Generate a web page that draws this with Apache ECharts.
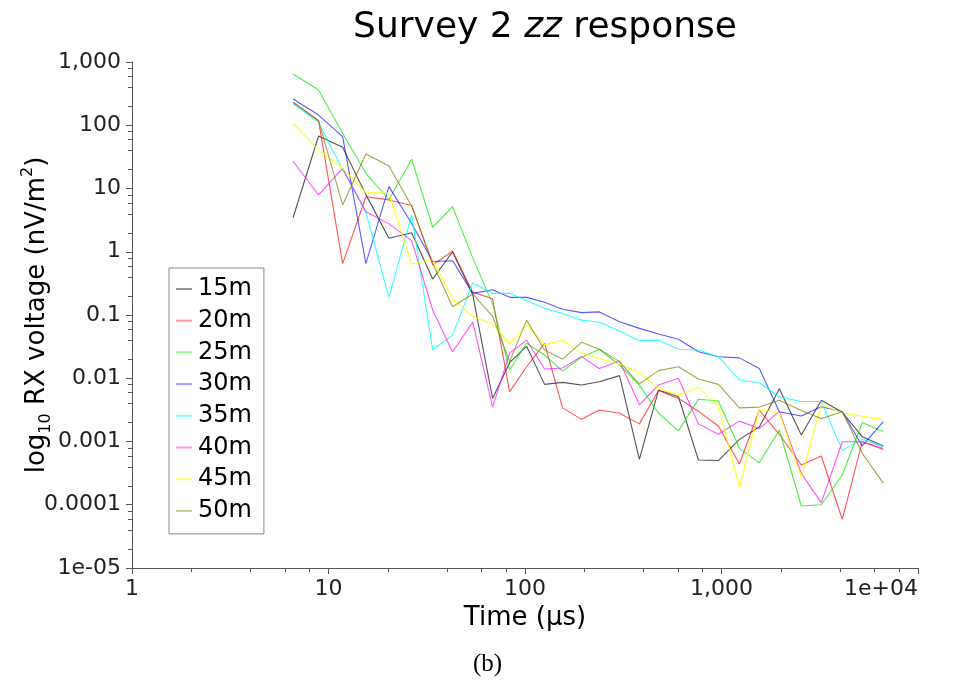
<!DOCTYPE html>
<html>
<head>
<meta charset="utf-8">
<title>Survey 2 zz response</title>
<script src="https://cdn.jsdelivr.net/npm/echarts@6/dist/echarts.min.js"></script>
<style>
  html, body { margin: 0; padding: 0; background: #ffffff; }
  #chart { width: 956px; height: 686px; }
</style>
</head>
<body>
<div id="chart"></div>
<script>
// Gate times (µs) shared by every offset
const times = [6.6, 8.9, 11.8, 15.5, 20.3, 26.5, 33.9, 42.8, 54.2, 68.4,
  83.5, 101.9, 125.8, 155.3, 194, 239, 302.7, 382, 478, 604,
  763, 964, 1233, 1558, 1969, 2548, 3220, 4117, 5203, 6654];

const seriesNames = ['15m', '20m', '25m', '30m', '35m', '40m', '45m', '50m'];

// zz response (nV/m^2) per offset
const v15 = [3.45, 67.6, 44.8, 8, 1.63, 2.0, 0.37, 1.0, 0.21, 0.0048,
  0.0176, 0.032, 0.008, 0.0086, 0.0078, 0.0088, 0.011, 0.00052, 0.0065, 0.0051,
  0.00051, 0.0005, 0.00108, 0.0017, 0.0068, 0.00127, 0.0045, 0.0029, 0.00119, 0.00085];
const v20 = [231, 118, 0.65, 7.4, 6.6, 5.4, 0.62, 1.02, 0.23, 0.18,
  0.0061, 0.0152, 0.0357, 0.0034, 0.00224, 0.00315, 0.0028, 0.0019, 0.0064, 0.0048,
  0.003, 0.00176, 0.00044, 0.00315, 0.0013, 0.000425, 0.00059, 0.0000589, 0.00099, 0.00075];
const v25 = [646, 361, 75, 17.4, 6.7, 29, 2.44, 5.15, 0.8, 0.15,
  0.0135, 0.0357, 0.0233, 0.013, 0.0214, 0.0287, 0.0162, 0.0078, 0.0028, 0.00147,
  0.00465, 0.00437, 0.00078, 0.00046, 0.00152, 0.0000955, 0.0001, 0.000295, 0.002, 0.00143];
const v30 = [260, 145, 66, 0.65, 10.7, 2.8, 0.70, 0.72, 0.22, 0.25,
  0.19, 0.19, 0.159, 0.123, 0.109, 0.112, 0.078, 0.0615, 0.050, 0.0413,
  0.0263, 0.0219, 0.021, 0.0143, 0.00296, 0.00253, 0.00355, 0.00296, 0.00085, 0.00206];
const v35 = [217, 111, 20, 4.2, 0.19, 3.8, 0.028, 0.048, 0.32, 0.22,
  0.22, 0.17, 0.128, 0.106, 0.083, 0.077, 0.056, 0.039, 0.040, 0.0287,
  0.028, 0.0219, 0.0094, 0.0085, 0.0051, 0.0043, 0.0043, 0.00073, 0.00108, 0.00083];
const v40 = [27, 7.9, 20.8, 4.3, 2.76, 1.5, 0.12, 0.026, 0.078, 0.0035,
  0.025, 0.040, 0.014, 0.0145, 0.022, 0.0143, 0.0187, 0.0038, 0.0078, 0.01,
  0.0019, 0.0013, 0.0021, 0.0016, 0.003, 0.000314, 0.000108, 0.00099, 0.00099, 0.00078];
const v45 = [107, 40.6, 20.8, 8.6, 8.4, 0.64, 0.76, 0.18, 0.094, 0.073,
  0.035, 0.07, 0.034, 0.040, 0.025, 0.0207, 0.0166, 0.0122, 0.0069, 0.0054,
  0.0071, 0.0036, 0.00019, 0.0032, 0.0028, 0.00027, 0.0038, 0.00285, 0.0025, 0.0022];
const v50 = [231, 118, 5.5, 35, 22.7, 5.3, 0.66, 0.135, 0.215, 0.095,
  0.0183, 0.083, 0.028, 0.02, 0.037, 0.0287, 0.0183, 0.0081, 0.0132, 0.0152,
  0.0097, 0.008, 0.0034, 0.0035, 0.0045, 0.0031, 0.0023, 0.00296, 0.00065, 0.00022];

const xTickLabels = ['1', '10', '100', '1,000', '1e+04'];
const yTickLabels = ['1e-05', '0.0001', '0.001', '0.01', '0.1', '1', '10', '100', '1,000'];

const seriesValues = [v15, v20, v25, v30, v35, v40, v45, v50];
const seriesColors = [
  'rgba(0,0,0,0.68)', 'rgba(255,0,0,0.68)', 'rgba(0,235,0,0.72)', 'rgba(0,0,255,0.65)',
  'rgba(0,255,255,0.8)', 'rgba(255,0,255,0.68)', 'rgba(255,255,0,0.9)', 'rgba(128,128,0,0.7)'
];

const FONT = 'DejaVu Sans';
const chart = echarts.init(document.getElementById('chart'), null, { renderer: 'canvas' });

function decadeIndex(v, base) {
  return Math.round(Math.log10(v)) - base;
}

const series = seriesNames.map((name, i) => ({
  name: name,
  type: 'line',
  symbol: 'none',
  animation: false,
  color: seriesColors[i],
  lineStyle: { width: 1.1, color: seriesColors[i] },
  data: times.map((t, k) => [t, seriesValues[i][k]])
}));

const axisLineStyle = { color: '#555', width: 1 };

chart.setOption({
  backgroundColor: '#ffffff',
  animation: false,
  title: {
    text: '{n|Survey 2 }{i|zz}{n| response}',
    left: 540,
    top: 5,
    textAlign: 'center',
    textStyle: {
      fontWeight: 'normal',
      rich: {
        n: { fontFamily: FONT, fontSize: 36, fontWeight: 'normal', color: '#000' },
        i: { fontFamily: FONT, fontSize: 36, fontWeight: 'normal', fontStyle: 'italic', color: '#000' }
      }
    }
  },
  legend: {
    orient: 'vertical',
    left: 169,
    top: 268,
    data: seriesNames,
    icon: 'rect',
    itemWidth: 16,
    itemHeight: 2,
    itemGap: 7.7,
    itemStyle: { opacity: 0.6 },
    textStyle: { fontFamily: FONT, fontSize: 24, color: '#000', padding: [0, 0, 0, 1] },
    padding: [9, 12, 11, 7],
    borderColor: '#888',
    borderWidth: 1,
    backgroundColor: '#fff'
  },
  grid: {
    left: 132, right: 38, top: 62, bottom: 118,
    containLabel: false,
    outerBoundsMode: 'none'
  },
  xAxis: {
    type: 'log',
    logBase: 10,
    min: 1,
    max: 10000,
    interval: 1,
    name: 'Time (µs)',
    nameLocation: 'middle',
    nameGap: 37,
    nameMoveOverlap: false,
    nameTextStyle: { fontFamily: FONT, fontSize: 26, color: '#000' },
    axisLine: { show: true, lineStyle: axisLineStyle },
    axisTick: { show: true, length: 6, inside: false, lineStyle: axisLineStyle },
    axisLabel: {
      fontFamily: FONT, fontSize: 22, color: '#222', margin: 10,
      alignMaxLabel: 'right',
      formatter: v => xTickLabels[decadeIndex(v, 0)]
    },
    splitLine: { show: false }
  },
  yAxis: {
    type: 'log',
    logBase: 10,
    min: 1e-5,
    max: 1000,
    interval: 1,
    name: 'log{sub|10} RX voltage (nV/m{sup|2})',
    nameLocation: 'middle',
    nameRotate: 90,
    nameGap: 78,
    nameMoveOverlap: false,
    nameTextStyle: {
      fontFamily: FONT, fontSize: 26, color: '#000', lineHeight: 34,
      rich: {
        sub: { fontFamily: FONT, fontSize: 16, color: '#000', verticalAlign: 'bottom', lineHeight: 34 },
        sup: { fontFamily: FONT, fontSize: 16, color: '#000', verticalAlign: 'top', lineHeight: 34 }
      }
    },
    axisLine: { show: true, lineStyle: axisLineStyle },
    axisTick: { show: true, length: 6, inside: false, lineStyle: axisLineStyle },
    axisLabel: {
      fontFamily: FONT, fontSize: 22, color: '#222', margin: 11,
      formatter: v => yTickLabels[decadeIndex(v, -5)]
    },
    splitLine: { show: false }
  },
  series: series
});

// Minor ticks at 2, 4, 6 and 8 of every decade, placed through the axis scales
function minorTicks() {
  const els = [];
  const style = { stroke: '#555', lineWidth: 1 };
  const y0 = chart.convertToPixel({ yAxisIndex: 0 }, 1e-5);
  const x0 = chart.convertToPixel({ xAxisIndex: 0 }, 1);
  const steps = [2, 4, 6, 8];
  for (let e = 0; e < 4; e++) {
    steps.forEach(s => {
      const x = Math.round(chart.convertToPixel({ xAxisIndex: 0 }, s * Math.pow(10, e))) + 0.5;
      els.push({ type: 'line', silent: true, shape: { x1: x, y1: y0, x2: x, y2: y0 + 4 }, style: style });
    });
  }
  for (let e = -5; e < 3; e++) {
    steps.forEach(s => {
      const y = Math.round(chart.convertToPixel({ yAxisIndex: 0 }, s * Math.pow(10, e))) + 0.5;
      els.push({ type: 'line', silent: true, shape: { x1: x0, y1: y, x2: x0 - 4, y2: y }, style: style });
    });
  }
  els.push({
    type: 'text', silent: true, left: 473, top: 652,
    style: { text: '(b)', font: '25px "Liberation Serif", "DejaVu Serif", serif', fill: '#000' }
  });
  return els;
}

chart.setOption({ graphic: { elements: minorTicks() } });
</script>
</body>
</html>
